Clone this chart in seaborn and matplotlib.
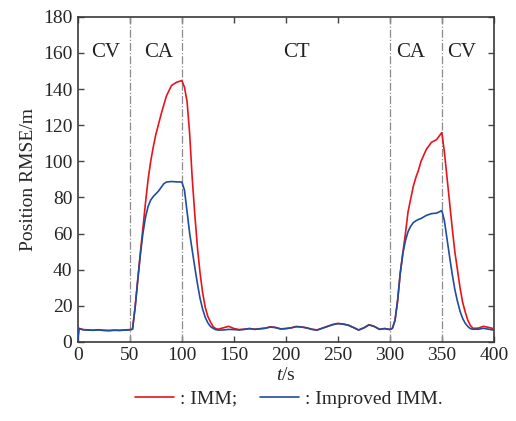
import numpy as np
import pandas as pd
import matplotlib
matplotlib.use('Agg')
import matplotlib.pyplot as plt
from matplotlib.lines import Line2D
import seaborn as sns

# time axis (s), split by manoeuvre phase (finer sampling where curves move fast)
t_cv1 = [0, 1, 5, 10, 15, 20, 25, 30, 35, 40, 45, 50]
t_ca1 = [52.5, 55, 57.5, 60, 62.5, 65, 67.5, 70, 72.5, 75, 77.5, 80, 82.5, 85, 90, 95,
         100, 102.5, 105, 107.5, 110, 112.5, 115, 117.5, 120, 122.5, 125, 127.5, 130, 132.5]
t_ct = [135, 140, 145, 150, 155, 160, 165, 170, 175, 180, 185, 190, 195, 200, 205, 210,
        215, 220, 225, 230, 235, 240, 245, 250, 255, 260, 265, 270, 275, 280, 285, 290,
        295, 300]
t_ca2 = [302.5, 305, 307.5, 310, 312.5, 315, 317.5, 320, 322.5, 325, 327.5, 330, 335, 340,
         345, 347.5, 350, 352.5, 355, 357.5, 360, 362.5, 365, 367.5, 370, 372.5, 375, 377.5]
t_cv2 = [380, 385, 390, 395, 400]

# position RMSE of the standard IMM
imm_cv1 = [1.0, 7.5, 6.8, 6.6, 6.5, 6.7, 6.4, 6.3, 6.5, 6.4, 6.6, 6.8]
imm_ca1 = [7.0, 19, 34, 49, 63, 77, 90, 100, 108, 115, 120.5, 126, 131, 136, 142, 143.8,
           144.7, 141, 133, 115, 90, 70, 52, 38, 27, 19, 14, 11, 8.5, 7.3]
imm_ct = [7.0, 7.8, 8.6, 7.4, 6.8, 7.0, 7.4, 7.0, 7.3, 7.6, 8.3, 8.0, 7.2, 7.4, 7.8, 8.5,
          8.3, 7.8, 7.0, 6.6, 7.6, 8.6, 9.6, 10.2, 9.9, 9.3, 8.0, 6.6, 7.8, 9.5, 8.6, 7.0,
          7.4, 6.9]
imm_ca2 = [7.5, 12, 23, 38, 49, 60, 72, 79, 86, 91, 95, 100, 106.5, 110.5, 112, 114, 115.9,
           105, 91, 77, 63, 50, 40, 30, 22, 16.5, 12, 9]
imm_cv2 = [7.5, 7.6, 8.6, 8.0, 7.3]

# position RMSE of the improved IMM
imp_cv1 = [1.0, 7.3, 6.7, 6.5, 6.4, 6.6, 6.3, 6.2, 6.4, 6.3, 6.5, 6.6]
imp_ca1 = [7.0, 19, 34, 48, 60, 69, 75, 78.5, 80.5, 82, 83.5, 85.5, 87.5, 88.5, 88.8, 88.6,
           88.5, 84, 72, 60, 50.5, 41, 32, 24, 18, 13.5, 10.5, 8.5, 7.5, 6.8]
imp_ct = [6.5, 6.6, 6.9, 6.8, 6.6, 6.9, 7.3, 6.9, 7.2, 7.5, 8.2, 7.9, 7.1, 7.3, 7.7, 8.4,
          8.2, 7.7, 6.9, 6.5, 7.5, 8.5, 9.5, 10.1, 9.8, 9.2, 7.9, 6.5, 7.7, 9.4, 8.5, 6.9,
          7.3, 6.8]
imp_ca2 = [7.5, 12, 23, 38, 49, 56, 61, 64, 66, 67, 67.8, 68.3, 70, 71, 71.3, 72, 72.7,
           67, 57, 47, 37.5, 29, 22.5, 17, 13, 10.3, 8.5, 7.3]
imp_cv2 = [7.0, 7.0, 7.5, 7.0, 6.5]

# manoeuvre segments
seg_bounds = [50, 100, 300, 350]
seg_names = ['CV', 'CA', 'CT', 'CA', 'CV']
seg_label_x = [27, 78, 210, 320, 369]

t = t_cv1 + t_ca1 + t_ct + t_ca2 + t_cv2
imm = imm_cv1 + imm_ca1 + imm_ct + imm_ca2 + imm_cv2
imp = imp_cv1 + imp_ca1 + imp_ct + imp_ca2 + imp_cv2

df = pd.DataFrame({
    't': t * 2,
    'rmse': imm + imp,
    'method': [': IMM;'] * len(t) + [': Improved IMM.'] * len(t),
})

sns.set_style('ticks')
plt.rcParams['font.family'] = ['Liberation Serif', 'DejaVu Serif']
plt.rcParams['mathtext.fontset'] = 'custom'
plt.rcParams['mathtext.it'] = 'Liberation Serif:italic'
plt.rcParams['mathtext.rm'] = 'Liberation Serif'

colors = {': IMM;': '#e8141c', ': Improved IMM.': '#1f4e9c'}

fig = plt.figure(figsize=(5.16, 4.21), dpi=100)
ax = fig.add_axes([0.151, 0.188, 0.806, 0.772])

for b in seg_bounds:
    ax.axvline(b, color='#8c8c8c', lw=0.9, ls='-.', zorder=1)

sns.lineplot(data=df, x='t', y='rmse', hue='method', palette=colors,
             lw=1.2, ax=ax, legend=False, zorder=3)

for name, x in zip(seg_names, seg_label_x):
    ax.text(x, 160, name, ha='center', va='center', fontsize=15, color='#222222')

ax.set_xlim(0, 400)
ax.set_ylim(0, 180)
ax.set_xticks(range(0, 401, 50))
ax.set_yticks(range(0, 181, 20))
ax.set_xlabel('$t$/s', fontsize=14, labelpad=2)
ax.set_ylabel('Position RMSE/m', fontsize=14, labelpad=4)
ax.tick_params(direction='in', top=True, right=True, labelsize=14, length=4,
               width=1, color='#444444', pad=4)
for s in ax.spines.values():
    s.set_color('#3a3a3a')
    s.set_linewidth(1.2)

handles = [Line2D([], [], color=colors[k], lw=1.2) for k in colors]
fig.legend(handles, list(colors), loc='lower center', ncol=2,
           bbox_to_anchor=(0.56, -0.01), frameon=False, fontsize=14,
           handlelength=2.0, handletextpad=0.3, columnspacing=1.2)

fig.savefig('out.png', dpi=100)
